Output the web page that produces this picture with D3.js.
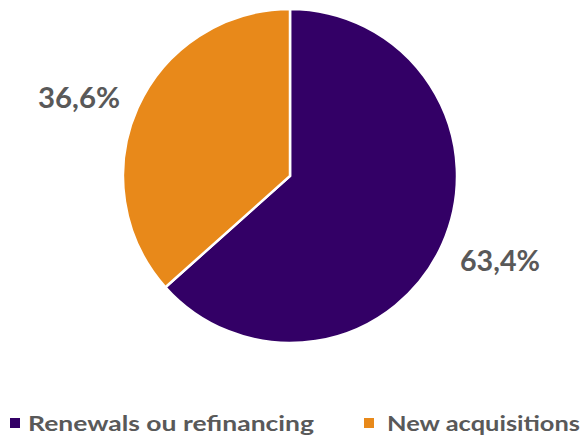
<!DOCTYPE html>
<html><head><meta charset="utf-8">
<script src="https://cdn.jsdelivr.net/npm/d3@7"></script>
<style>body{margin:0;background:#fff}</style>
</head><body>
<svg id="c" width="585" height="438"></svg>
<script>
const categories = ["Renewals ou refinancing", "New acquisitions"];
const values = [63.4, 36.6];
const labels = ["63,4%", "36,6%"];
const colors = ["#330066", "#E8891A"];

const svg = d3.select("#c");
const cx = 290, cy = 176, r = 167;
const pie = d3.pie().sort(null).value(d => d.v);
const data = pie(categories.map((c, i) => ({c, v: values[i], l: labels[i], col: colors[i]})));
const arc = d3.arc().innerRadius(0).outerRadius(r);
const g = svg.append("g").attr("transform", `translate(${cx},${cy})`);
g.selectAll("path").data(data).enter().append("path")
  .attr("d", arc).attr("fill", d => d.data.col)
  .attr("stroke", "#fff").attr("stroke-width", 2.5);

const labelPos = [[460, 271, 80], [38, 108, 82]];
svg.selectAll("text.lbl").data(data).enter().append("text")
  .attr("class", "lbl")
  .attr("x", (d, i) => labelPos[i][0]).attr("y", (d, i) => labelPos[i][1])
  .attr("textLength", (d, i) => labelPos[i][2]).attr("lengthAdjust", "spacingAndGlyphs")
  .attr("font-family", "Lato, 'Open Sans', sans-serif").attr("font-weight", "bold")
  .attr("font-size", 28).attr("fill", "#595959")
  .text(d => d.data.l);

const leg = [[10, 28, 286], [364, 387, 193]];
categories.forEach((c, i) => {
  svg.append("rect").attr("x", leg[i][0]).attr("y", 418).attr("width", 10).attr("height", 10).attr("fill", colors[i]);
  svg.append("text").attr("x", leg[i][1]).attr("y", 431)
    .attr("textLength", leg[i][2]).attr("lengthAdjust", "spacingAndGlyphs")
    .attr("font-family", "Lato, 'Open Sans', sans-serif").attr("font-weight", "bold")
    .attr("font-size", 20).attr("fill", "#595959").text(c);
});
</script>
</body></html>
